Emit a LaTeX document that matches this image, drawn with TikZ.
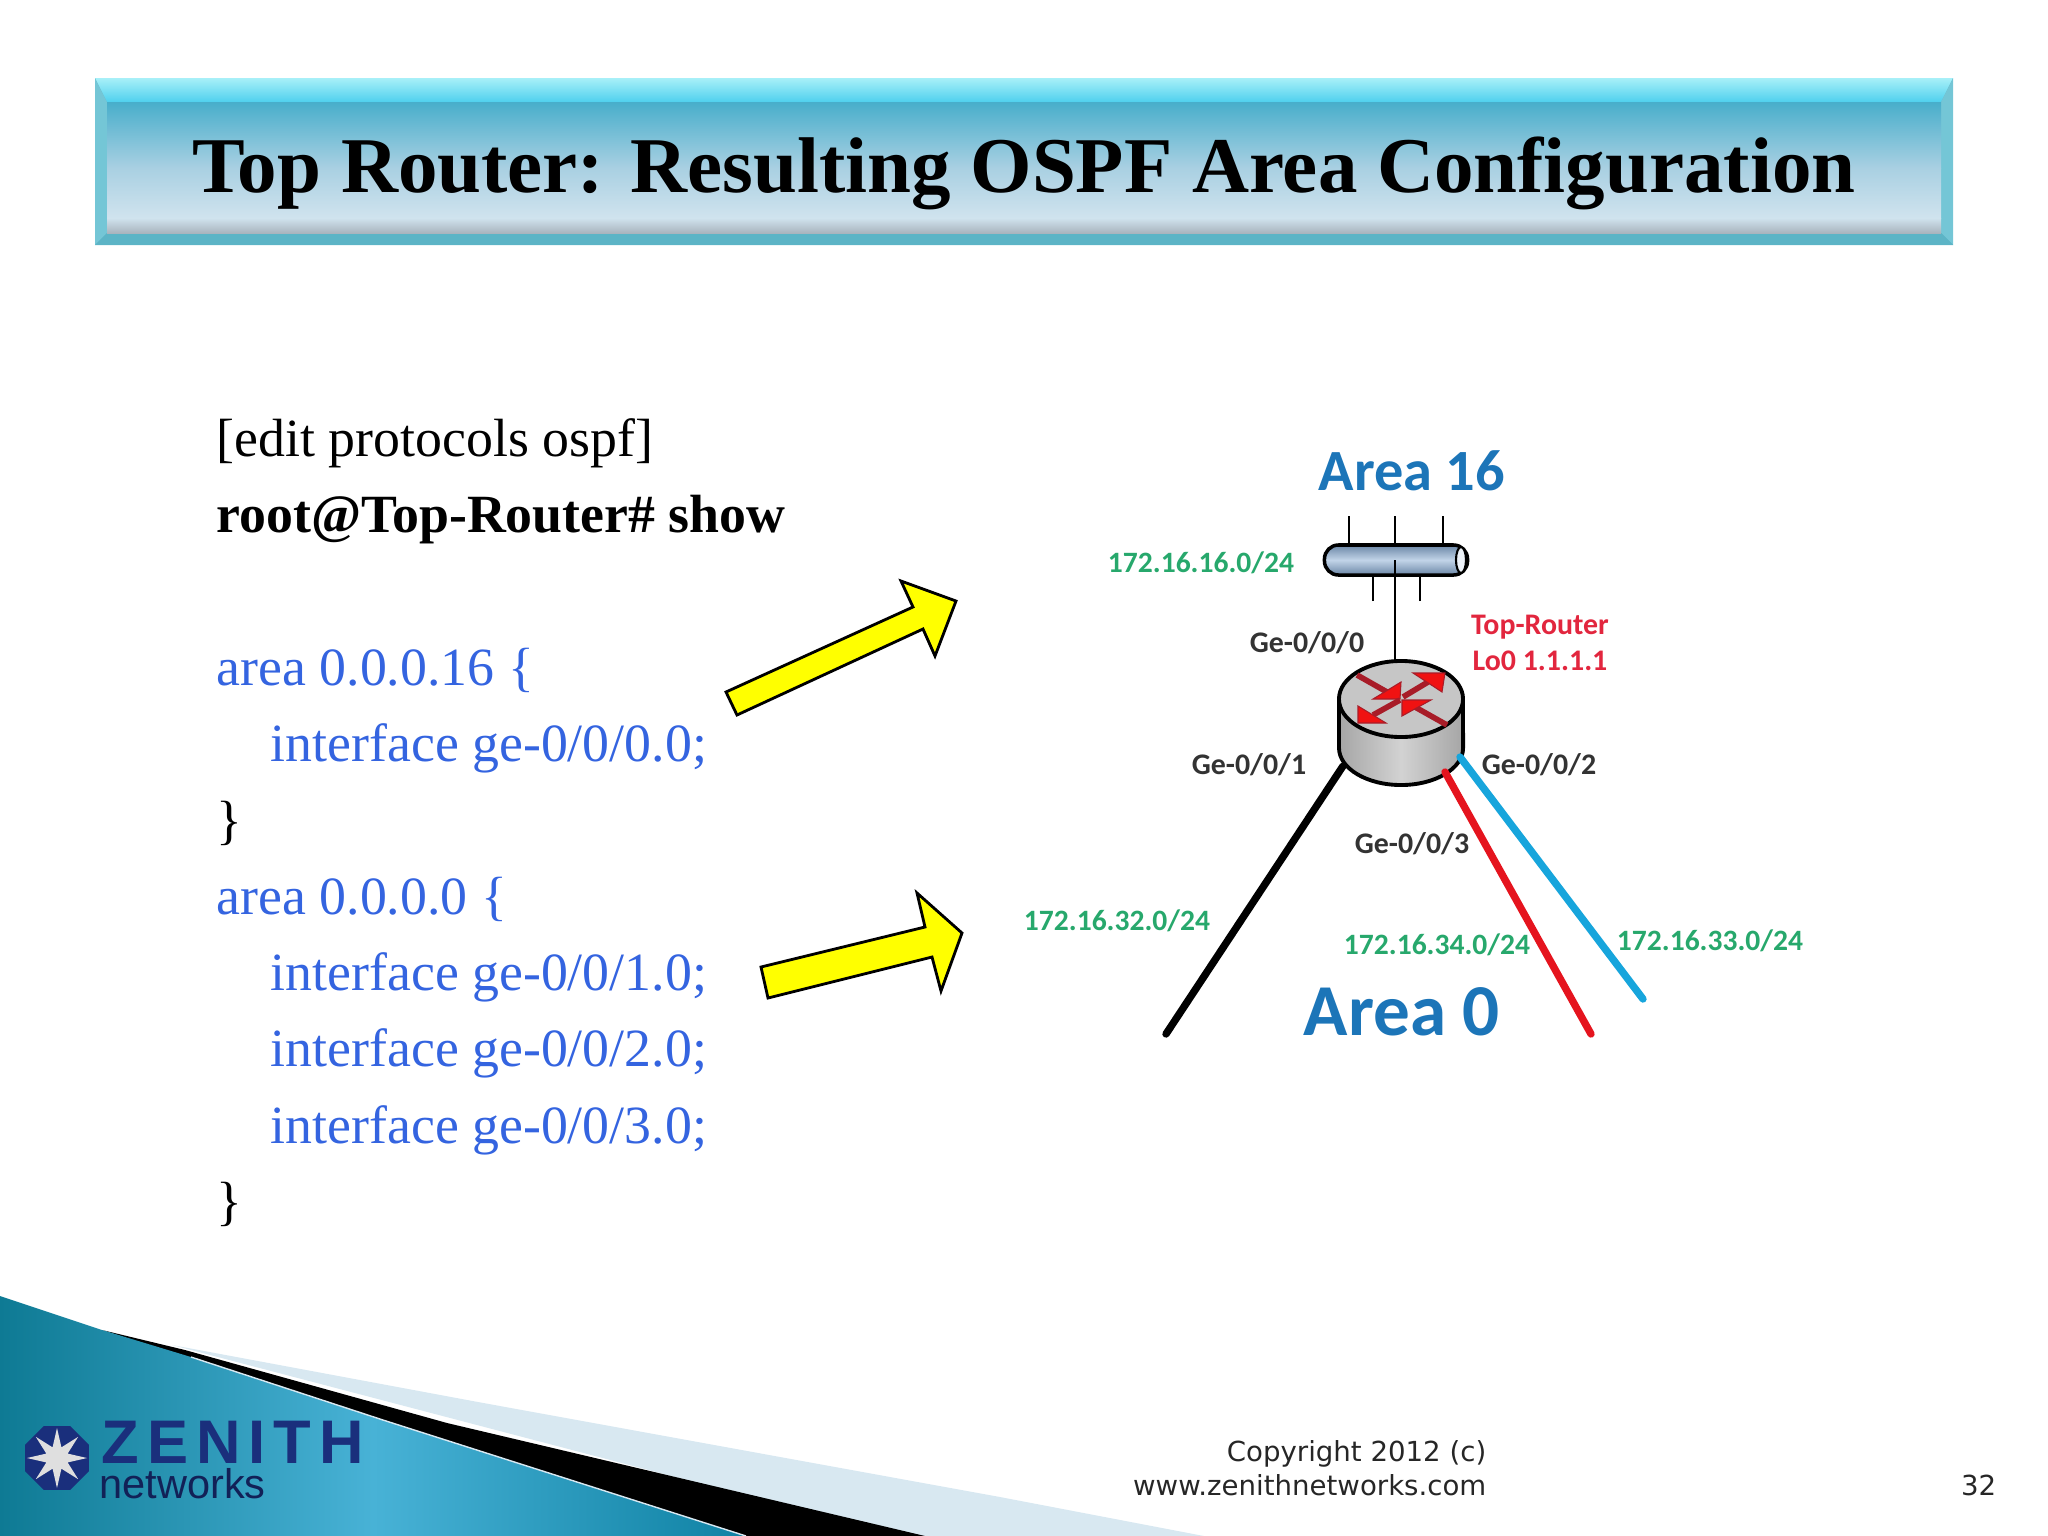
\documentclass[tikz,border=0pt]{standalone}
\usepackage{fontspec}
\setmainfont{Liberation Serif}
\newfontfamily\diagfont{Carlito}
\newfontfamily\footfont{DejaVu Sans}
\newfontfamily\logofont{Liberation Sans}
\newfontfamily\zenithfont[LetterSpace=13]{Liberation Sans}
\usetikzlibrary{shapes.geometric}
\definecolor{codeblue}{HTML}{3464E0}
\definecolor{netgreen}{HTML}{27A86C}
\definecolor{areablue}{HTML}{1C75B8}
\definecolor{toppink}{HTML}{E2263E}
\definecolor{linkred}{HTML}{E5141E}
\definecolor{linkblue}{HTML}{17A5DC}
\definecolor{logoblue}{HTML}{1A2F7C}
\definecolor{lighttail}{HTML}{D8E8F1}
\definecolor{arrowyellow}{RGB}{255,255,0}
\definecolor{bevellight}{HTML}{A8F0F8}
\definecolor{bevelcyan}{HTML}{4FD0EE}
\definecolor{bevelside}{HTML}{74C6D6}
\definecolor{bevelbottom}{HTML}{5CB4C6}
\definecolor{bartop}{HTML}{48AECB}
\definecolor{barmid}{HTML}{A9D0E2}
\definecolor{barpaler}{HTML}{D0E3EE}
\definecolor{bargray}{HTML}{A9B4BE}
\definecolor{tealdark}{HTML}{0E7A94}
\definecolor{tealmid}{HTML}{48B2D6}
\definecolor{tealend}{HTML}{0F82A4}
\definecolor{busdark}{HTML}{6A86A6}
\definecolor{buspale}{HTML}{C2D4E8}
\definecolor{flowred}{HTML}{F01212}
\definecolor{flowdark}{HTML}{A81C28}
\tikzset{
  codeline/.style={anchor=base west, inner sep=0pt, font=\fontsize{15.3}{18}\selectfont},
  netlabel/.style={inner sep=0pt, text=netgreen, font=\diagfont\bfseries\fontsize{8.4}{10}\selectfont},
  portlabel/.style={inner sep=0pt, text=black!80, font=\diagfont\bfseries\fontsize{8.5}{10}\selectfont},
  toplabel/.style={inner sep=0pt, text=toppink, font=\diagfont\bfseries\fontsize{8.5}{10}\selectfont},
  footlabel/.style={anchor=base east, inner sep=0pt, text=black!85, font=\footfont\fontsize{7.85}{9}\selectfont},
  yellowarrow/.style={draw=black, fill=arrowyellow, line width=0.8pt, line join=miter},
  link/.style={line width=2.1pt, line cap=round},
  tick/.style={black, line width=0.4pt},
  flowline/.style={draw=flowdark, line width=1.6pt},
  flowhead/.style={fill=flowred, draw=flowdark, line width=0.3pt},
}
\begin{document}
\begin{tikzpicture}[x=0.01cm, y=-0.01cm]
  \useasboundingbox (0,0) rectangle (2048,1536);

  % title bar
  \fill[bevelbottom] (95,78) rectangle (1953,245);
  \shade[top color=bevellight, bottom color=bevelcyan] (95,78) -- (1953,78) -- (1941,102) -- (107,102) -- cycle;
  \fill[bevelside] (95,78) -- (107,102) -- (107,233) -- (95,245) -- cycle;
  \fill[bevelside] (1953,78) -- (1941,102) -- (1941,233) -- (1953,245) -- cycle;
  \fill[bevelbottom] (95,245) -- (107,233) -- (1941,233) -- (1953,245) -- cycle;
  \shade[top color=bartop, bottom color=barmid] (107,102) rectangle (1941,168);
  \shade[top color=barmid, bottom color=barpaler] (107,168) rectangle (1941,218);
  \shade[top color=barpaler, bottom color=bargray] (107,218) rectangle (1941,233);
  \node (title) [anchor=base, inner sep=0pt, font=\bfseries\fontsize{22.46}{26}\selectfont] at (1024,192) {Top Router: Resulting OSPF Area Configuration};

  % config text
  \node (edit) [codeline] at (216,456) {[edit protocols ospf]};
  \node (show) [codeline] at (216,532) {\textbf{root@Top-Router\# show}};
  \node (area16) [codeline, text=codeblue] at (216,685) {area 0.0.0.16 \{};
  \node (if0) [codeline, text=codeblue] at (270,761) {interface ge-0/0/0.0;};
  \node (close16) [codeline] at (216,838) {\}};
  \node (area0) [codeline, text=codeblue] at (216,914) {area 0.0.0.0 \{};
  \node (if1) [codeline, text=codeblue] at (270,990) {interface ge-0/0/1.0;};
  \node (if2) [codeline, text=codeblue] at (270,1066) {interface ge-0/0/2.0;};
  \node (if3) [codeline, text=codeblue] at (270,1143) {interface ge-0/0/3.0;};
  \node (close0) [codeline] at (216,1219) {\}};

  % yellow arrows
  \draw[yellowarrow] (726,692) -- (913,607) -- (901,581) -- (956,601) -- (935,656) -- (923,629) -- (737,715) -- cycle;
  \draw[yellowarrow] (761,967) -- (925,927) -- (917,893) -- (962,933) -- (941,991) -- (932,957) -- (768,998) -- cycle;

  % bus
  \node (bus) [rectangle, rounded corners=0.14cm, draw=black, line width=1pt, minimum height=0.3cm, minimum width=1.43cm, inner sep=0pt,
    top color=busdark, bottom color=busdark, middle color=buspale] at (1396,560) {};
  \draw[line width=0.6pt, fill=white!70!buspale] (1461,560) ellipse [x radius=0.05cm, y radius=0.13cm];
  \coordinate (t1) at (1349,516);
  \coordinate (t2) at (1395,516);
  \coordinate (t3) at (1443,516);
  \coordinate (b1) at (1373,601);
  \coordinate (b2) at (1420,601);
  \draw[tick] (t1) -- (t1 |- bus.north);
  \draw[tick] (t2) -- (t2 |- bus.north);
  \draw[tick] (t3) -- (t3 |- bus.north);
  \draw[tick] (b1) -- (b1 |- bus.south);
  \draw[tick] (b2) -- (b2 |- bus.south);

  % router
  \coordinate (routertop) at (1395,661);
  \coordinate (blackstart) at (1343,766);
  \coordinate (redstart) at (1445,772);
  \coordinate (bluestart) at (1460,757);
  \draw[tick] (bus.center -| t2) -- (routertop);
  \draw[black, line width=1.1pt, left color=gray!70, right color=gray!70, middle color=gray!35]
    (1339,699) -- (1339,748) arc[start angle=180, end angle=360, x radius=0.62cm, y radius=0.37cm] -- (1463,699) -- cycle;
  \draw[black, line width=1.1pt, fill=gray!45] (1401,699) ellipse [x radius=0.62cm, y radius=0.38cm];

  \draw[flowline] (1357,675) -- (1387,692);
  \fill[flowhead] (1401,682) -- (1400,699) -- (1373,699) -- cycle;
  \draw[flowline] (1403,697) -- (1428,682);
  \fill[flowhead] (1413,673) -- (1445,673) -- (1442,692) -- cycle;
  \draw[flowline] (1400,700) -- (1373,715);
  \fill[flowhead] (1358,706) -- (1358,723) -- (1386,723) -- cycle;
  \draw[flowline] (1447,725) -- (1415,707);
  \fill[flowhead] (1431,700) -- (1402,700) -- (1402,716) -- cycle;

  % links into area 0
  \coordinate (blackend) at (1166,1034);
  \coordinate (redend) at (1591,1034);
  \coordinate (blueend) at (1643,999);
  \draw[link, black] (blackstart) -- (blackend);
  \draw[link, linkred] (redstart) -- (redend);
  \draw[link, linkblue] (bluestart) -- (blueend);

  % labels
  \node (a16) [inner sep=0pt, text=areablue, font=\diagfont\bfseries\fontsize{16.6}{20}\selectfont] at (1412,471) {Area 16};
  \node (a0) [inner sep=0pt, text=areablue, font=\diagfont\bfseries\fontsize{20.8}{24}\selectfont] at (1402,1012) {Area 0};
  \node (net16) [netlabel] at (1201,563) {172.16.16.0/24};
  \node (net32) [netlabel] at (1117,921) {172.16.32.0/24};
  \node (net34) [netlabel] at (1437,945) {172.16.34.0/24};
  \node (net33) [netlabel] at (1710,941) {172.16.33.0/24};
  \node (ge0) [portlabel] at (1307,643) {Ge-0/0/0};
  \node (ge1) [portlabel] at (1249,765) {Ge-0/0/1};
  \node (ge2) [portlabel] at (1539,765) {Ge-0/0/2};
  \node (ge3) [portlabel] at (1412,844) {Ge-0/0/3};
  \node (topname) [toplabel] at (1540,627) {Top-Router};
  \node (loop) [toplabel] at (1540,661) {Lo0 1.1.1.1};

  % corner swoosh
  \fill[lighttail] (172,1345) -- (478,1402) -- (1000,1497) -- (1204,1536) -- (900,1536) -- cycle;
  \fill[black] (102,1330) -- (185,1350) -- (447,1423) -- (925,1536) -- (740,1536) -- cycle;
  \shade[left color=tealdark, right color=tealend, middle color=tealmid]
    (0,1296) -- (102,1330) -- (191,1357) -- (383,1420) -- (746,1536) -- (0,1536) -- cycle;
  \draw[lighttail, line width=0.4pt] (191,1357) -- (383,1420) -- (746,1536);

  % logo
  \node (octagon) [regular polygon, regular polygon sides=8, fill=logoblue, inner sep=0pt, minimum size=0.69cm] at (57,1458) {};
  \node (burst) [star, star points=8, star point ratio=2.6, fill=gray!25, inner sep=0pt, minimum size=0.6cm] at (57,1458) {};
  \node (zenith) [anchor=base west, inner sep=0pt, text=logoblue, font=\zenithfont\bfseries\fontsize{17.5}{20}\selectfont] at (101,1463) {ZENITH};
  \node (networks) [anchor=base west, inner sep=0pt, text=logoblue!70!black, font=\logofont\fontsize{11.8}{13}\selectfont] at (99,1498) {networks};

  % footer
  \node (copy) [footlabel] at (1487,1461) {Copyright 2012 (c)};
  \node (www) [footlabel] at (1487,1495) {www.zenithnetworks.com};
  \node (page) [footlabel] at (1997,1495) {32};
\end{tikzpicture}
\end{document}
